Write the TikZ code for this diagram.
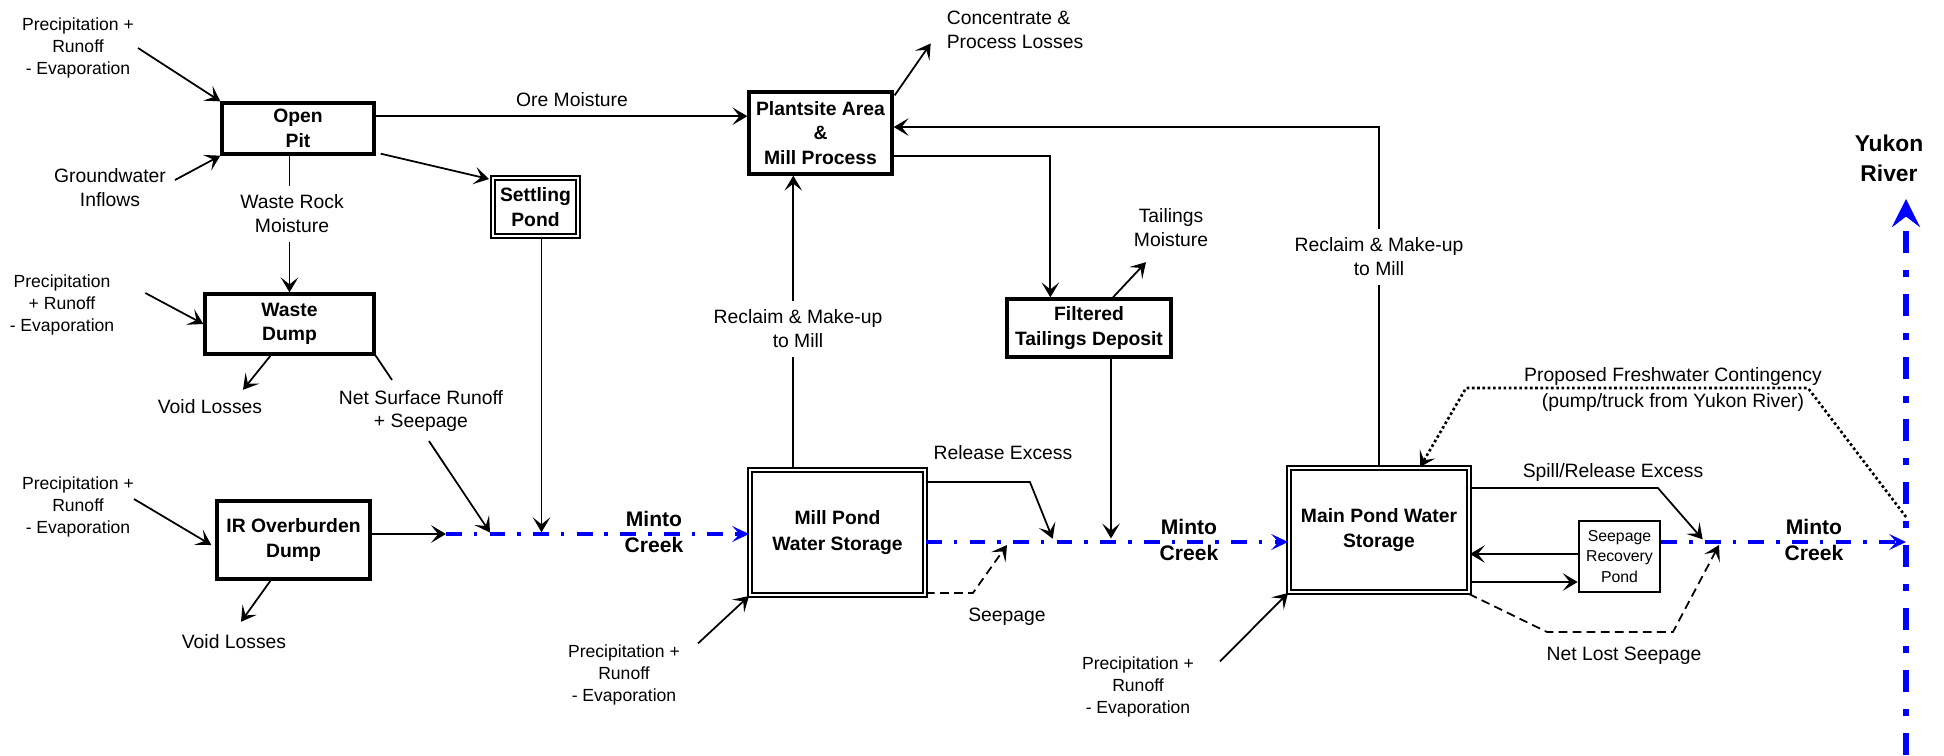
\documentclass[tikz,border=0pt]{standalone}
\usepackage{fontspec}
\setmainfont{Liberation Sans}
\usetikzlibrary{positioning,arrows.meta,calc}
\definecolor{mcBlue}{RGB}{0,0,255}

\begin{document}
\begin{tikzpicture}[x=0.02cm, y=-0.02cm,
  box/.style={draw, line width=1.9pt, align=center, inner sep=1pt, font=\fontsize{11}{14}\selectfont\bfseries},
  pond/.style={draw, double, double distance=1.3pt, line width=1.1pt, align=center, inner sep=1pt, font=\fontsize{11}{14.5}\selectfont\bfseries},
  lbl/.style={align=center, inner sep=1pt, font=\fontsize{11}{13.6}\selectfont},
  gaplbl/.style={lbl, inner sep=5pt},
  prec/.style={align=center, inner sep=1pt, font=\fontsize{10}{12.7}\selectfont},
  creek/.style={align=center, inner sep=0pt, font=\fontsize{12}{15.3}\selectfont\bfseries},
  flow/.style={line width=1pt, -{Stealth[length=8.5pt, width=10pt, inset=4pt]}},
  link/.style={line width=1pt},
  seepln/.style={flow, dash pattern=on 5pt off 3pt},
  pumpln/.style={flow, line width=1.5pt, dash pattern=on 1.5pt off 1.5pt},
  water/.style={mcBlue, line width=2.3pt, dash pattern=on 9pt off 6.8pt on 2pt off 7pt, -{Stealth[length=9.5pt, width=9pt, inset=4pt]}},
  river/.style={mcBlue, line width=3.4pt, dash pattern=on 12.5pt off 9.6pt on 4pt off 9.6pt, -{Stealth[length=16pt, width=16pt, inset=6pt]}},
]
\useasboundingbox (0,0) rectangle (1944,755);

% mine site areas
\node[box, minimum width=3.04cm, minimum height=1.02cm] (pit) at (298,128.5) {Open\\Pit};
\node[box, minimum width=3.38cm, minimum height=1.2cm] (dump) at (289.5,324) {Waste\\Dump};
\node[pond, minimum width=1.70cm, minimum height=1.16cm] (settle) at (535.5,207) {Settling\\Pond};
\node[box, minimum width=3.06cm, minimum height=1.56cm] (irdump) at (293.5,540) {IR Overburden\\Dump};
\node[box, minimum width=2.86cm, minimum height=1.64cm] (plant) at (820.5,133) {Plantsite Area\\\&\\Mill Process};
\node[box, minimum width=3.28cm, minimum height=1.16cm] (filter) at (1089,328) {Filtered\\Tailings Deposit};
\node[pond, minimum width=3.50cm, minimum height=2.50cm] (millpond) at (837.5,532.5) {Mill Pond\\Water Storage};
\node[pond, minimum width=3.60cm, minimum height=2.48cm] (mainpond) at (1379,530) {Main Pond Water\\Storage};
\node[box, line width=1.5pt, font=\fontsize{9}{11.6}\selectfont, minimum width=1.62cm, minimum height=1.42cm] (seeprec) at (1619.5,556.5) {Seepage\\Recovery\\Pond};

% labels
\node[prec] (precA) at (78,48) {Precipitation +\\Runoff\\- Evaporation};
\node[lbl] (gw) at (110,188) {Groundwater\\Inflows};
\node[gaplbl] (wrm) at (292,214) {Waste Rock\\Moisture};
\node[prec] (precB) at (62,305) {Precipitation\\+ Runoff\\- Evaporation};
\node[lbl] (ore) at (572,100) {Ore Moisture};
\node[lbl, align=left] (conc) at (1015,29.5) {Concentrate \&\\Process Losses};
\node[gaplbl] (reclA) at (798,329) {Reclaim \& Make-up\\to Mill};
\node[gaplbl] (reclB) at (1379,257) {Reclaim \& Make-up\\to Mill};
\node[lbl] (tailm) at (1171,228) {Tailings\\Moisture};
\node[lbl] (voidA) at (210,407) {Void Losses};
\node[lbl] (nsr) at (421,411) {Net Surface Runoff\\+ Seepage};
\node[prec] (precC) at (78,507) {Precipitation +\\Runoff\\- Evaporation};
\node[lbl] (voidB) at (234,642) {Void Losses};
\node[creek] (creekA) at (654,532) {Minto\\Creek};
\node[lbl] (release) at (1003,453) {Release Excess};
\node[lbl] (seep) at (1007,617) {Seepage};
\node[prec] (precD) at (624,675) {Precipitation +\\Runoff\\- Evaporation};
\node[creek] (creekB) at (1189,540) {Minto\\Creek};
\node[prec] (precE) at (1138,687) {Precipitation +\\Runoff\\- Evaporation};
\node[lbl] (spill) at (1613,472) {Spill/Release Excess};
\node[creek] (creekC) at (1814,540) {Minto\\Creek};
\node[lbl] (netlost) at (1624,656) {Net Lost Seepage};
\node[lbl] (prop) at (1673,389.5) {Proposed Freshwater Contingency\\[1.7pt](pump/truck from Yukon River)};
\node[creek, font=\fontsize{13}{17}\selectfont\bfseries] (yukon) at (1889,158) {Yukon\\River};

% points on the creek and river
\coordinate (cA) at (446,534);
\coordinate (cB) at (1000,542);
\coordinate (cC) at (1906,542);
\coordinate (yk) at (1906,199);
\coordinate (ykS) at (1906,755);
\coordinate (jA1) at ($(cA)+(45,0)$);
\coordinate (sOut) at ($(settle.south)+(6,0)$);
\coordinate (jB0) at ($(cB)+(7,3)$);
\coordinate (jB1) at ($(cB)+(54,0)$);
\coordinate (fOut) at ($(filter.south)+(22,0)$);
\coordinate (jC1) at ($(cC)+(-201,0)$);
\coordinate (jC0) at ($(cC)+(-187,3)$);
\coordinate (ykD) at ($(cC)+(0,-25)$);
\coordinate (mpTop) at ($(millpond.north west)!0.25!(millpond.north east)$);
\coordinate (srIn) at ($(seeprec.west)+(0,-2.5)$);
\coordinate (mpOut) at ($(mainpond.east)+(0,52)$);

% inflows and losses
\draw[flow] ($(precA.east)+(2,0)$) -- (pit.north west);
\draw[flow] ($(gw.east)+(7,-8)$) -- (pit.south west);
\draw[link] (dump.north |- pit.south) -- (dump.north |- wrm.north);
\draw[flow] (dump.north |- wrm.south) -- (dump.north);
\draw[flow] ($(pit.south east)+(5,-2)$) -- ($(settle.north west)+(-3,2)$);
\draw[flow] ([yshift=7pt]pit.east) -- ([yshift=7pt]pit.east -| plant.west);
\draw[flow] ($(plant.north east)+(1,5)$) -- ($(conc.south west)+(-14,-7)$);
\draw[flow] ($(precB.east)+(29,-12)$) -- (dump.west);
\draw[flow] ($(dump.south)+(-19,0)$) -- ($(voidA.north)+(33,-8)$);
\draw[link] (dump.south east) -- ($(nsr.north)+(-29,-8)$);
\draw[flow, shorten >=1pt] ($(nsr.south)+(8,7)$) -- (jA1);
\draw[flow, shorten >=1pt] (sOut) -- (sOut |- cA);
\draw[flow] ($(precC.east)+(-2,-8)$) -- ($(irdump.west)+(-4,5)$);
\draw[flow] ([yshift=3.4pt]irdump.east) -- (cA);
\draw[flow] ($(irdump.south)+(-23,0)$) -- ($(voidB.north)+(7,-11)$);

% mill circuit
\draw[link] (mpTop) -- (mpTop |- reclA.south);
\draw[flow] (mpTop |- reclA.north) -- (mpTop |- plant.south);
\draw[flow] ([yshift=-13pt]plant.east) -| ($(filter.north west)+(45,0)$);
\draw[flow] ($(filter.north)+(24,0)$) -- ($(tailm.south)+(-25,13)$);
\draw[flow, shorten >=2pt] (fOut) -- (fOut |- cB);
\draw[link] (mainpond.north) -- (reclB.south);
\draw[flow] (reclB.north) |- ([yshift=3.4pt]plant.east);

% ponds
\draw[flow, shorten >=2pt] ($(millpond.north east)+(0,13)$) -- ++(104,0) -- (jB1);
\draw[seepln] ($(millpond.south east)+(0,-3)$) -- ++(47,0) -- (jB0);
\draw[flow] ($(precD.north east)+(16,1)$) -- (millpond.south west);
\draw[flow] ($(precE.north east)+(24,7)$) -- (mainpond.south west);
\draw[flow, shorten >=2pt] ($(mainpond.north east)+(0,21)$) -- ++(188,0) -- (jC1);
\draw[flow] (srIn) -- (srIn -| mainpond.east);
\draw[flow] (mpOut) -- (mpOut -| seeprec.west);
\draw[seepln] ($(mainpond.south east)+(-1,1)$) -- ++(78,38) -- ++(126,0) -- (jC0);
\draw[pumpln] (ykD) -- ++(-98,-129) -- ++(-342,0) -- ($(mainpond.north west)+(132,0)$);

% Minto Creek and Yukon River
\draw[water] (cA) -- (millpond.west |- cA);
\draw[water] (millpond.east |- cB) -- (mainpond.west |- cB);
\draw[water] (seeprec.east |- cC) -- (cC);
\draw[river] (ykS) -- (yk);
\end{tikzpicture}
\end{document}
